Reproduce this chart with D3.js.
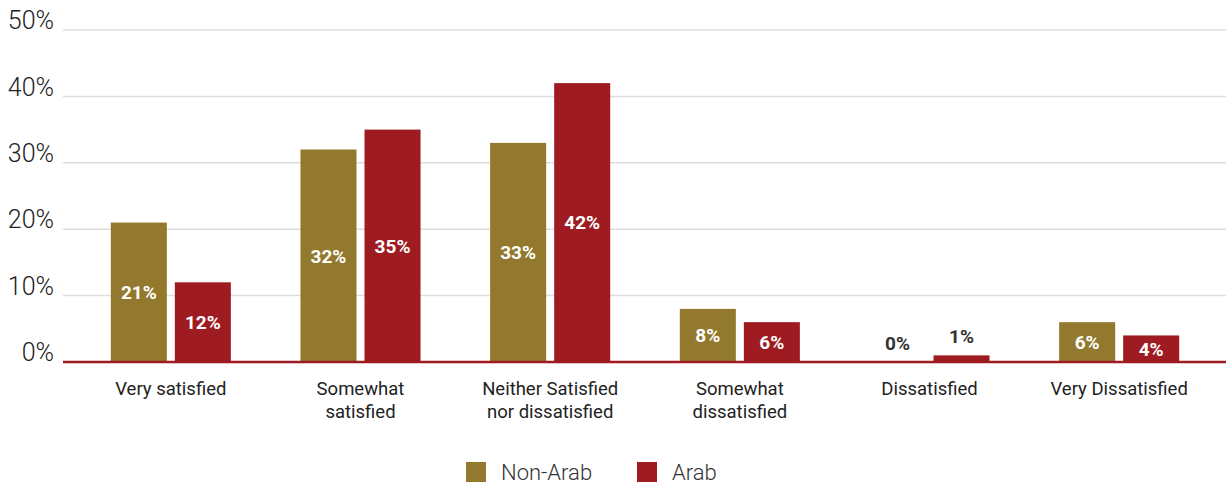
<!doctype html>
<html lang="en">
<head>
<meta charset="utf-8">
<title>Satisfaction: Non-Arab vs Arab</title>
<script src="https://cdn.jsdelivr.net/npm/d3@7"></script>
<style>
body { margin: 0; background: #fff; }
text { font-family: Roboto, "DejaVu Sans", sans-serif; }
</style>
</head>
<body>
<div id="chart"></div>
<script>

var width = 1226;
var height = 486;

// data
var categories = [
	["Very satisfied"],
	["Somewhat", "satisfied"],
	["Neither Satisfied", "nor dissatisfied"],
	["Somewhat", "dissatisfied"],
	["Dissatisfied"],
	["Very Dissatisfied"]
];
var seriesNames = ["Non-Arab", "Arab"];
var nonArab = [21, 32, 33, 8, 0, 6];
var arab = [12, 35, 42, 6, 1, 4];
var yTicks = [0, 10, 20, 30, 40, 50];

var colors = ["#92792e", "#9e1b22"];

var svg = d3.select("#chart").append("svg")
	.attr("width", width)
	.attr("height", height);

var x0 = d3.scaleBand()
	.domain(d3.range(categories.length))
	.range([76, 1214])
	.paddingInner(0.367)
	.paddingOuter(0.1835);

var x1 = d3.scaleBand()
	.domain(d3.range(seriesNames.length))
	.range([0, x0.bandwidth()])
	.paddingInner(0.125);

var y = d3.scaleLinear()
	.domain([0, 50])
	.range([362, 30]);

// gridlines
svg.append("g").selectAll("line")
	.data(yTicks.slice(1))
	.enter().append("line")
	.attr("x1", 63).attr("x2", width)
	.attr("y1", function(d) { return y(d); })
	.attr("y2", function(d) { return y(d); })
	.attr("stroke", "#dedede")
	.attr("stroke-width", 1.5);

// y axis labels
var yAxis = svg.append("g")
	.attr("transform", "translate(54,0)")
	.call(d3.axisLeft(y).tickValues(yTicks).tickSize(0).tickPadding(0)
		.tickFormat(function(d) { return d + "%"; }));
yAxis.select(".domain").remove();
yAxis.selectAll("text")
	.attr("dy", "-0.05em")
	.attr("font-size", 25)
	.attr("font-weight", 300)
	.attr("fill", "#222")
	.style("font-family", "Roboto, sans-serif");

// bars
var rows = categories.map(function(c, i) { return [nonArab[i], arab[i]]; });

var groups = svg.append("g").selectAll("g")
	.data(rows)
	.enter().append("g")
	.attr("transform", function(d, i) { return "translate(" + x0(i) + ",0)"; });

groups.selectAll("rect")
	.data(function(d) { return d; })
	.enter().append("rect")
	.attr("x", function(d, j) { return x1(j); })
	.attr("y", function(d) { return y(d); })
	.attr("width", x1.bandwidth())
	.attr("height", function(d) { return y(0) - y(d); })
	.attr("fill", function(d, j) { return colors[j]; });

// value labels: inside when bar is tall enough, otherwise above in grey
groups.selectAll("text")
	.data(function(d) { return d; })
	.enter().append("text")
	.attr("x", function(d, j) { return x1(j) + x1.bandwidth() / 2; })
	.attr("y", function(d) {
		var h = y(0) - y(d);
		return h > 20 ? y(d) + h / 2 : y(d) - 12;
	})
	.attr("dy", function(d) { return (y(0) - y(d)) > 20 ? "0.36em" : "0"; })
	.attr("text-anchor", "middle")
	.attr("font-size", 19)
	.attr("font-weight", 700)
	.attr("fill", function(d) { return (y(0) - y(d)) > 20 ? "#fff" : "#333"; })
	.text(function(d) { return d + "%"; });

// baseline
svg.append("line")
	.attr("x1", 63).attr("x2", width)
	.attr("y1", y(0)).attr("y2", y(0))
	.attr("stroke", "#9e1b22")
	.attr("stroke-width", 2.5);

// category labels
var catText = svg.append("g").selectAll("text")
	.data(categories)
	.enter().append("text")
	.attr("x", function(d, i) { return x0(i) + x0.bandwidth() / 2; })
	.attr("y", 395)
	.attr("text-anchor", "middle")
	.attr("font-size", 18.5)
	.attr("fill", "#222");

catText.selectAll("tspan")
	.data(function(d) { return d; })
	.enter().append("tspan")
	.attr("x", function() { return d3.select(this.parentNode).attr("x"); })
	.attr("dy", function(d, k) { return k === 0 ? 0 : 23; })
	.text(function(d) { return d; });

// legend
var legendX = [466, 637];
var legend = svg.append("g").selectAll("g")
	.data(seriesNames)
	.enter().append("g")
	.attr("transform", function(d, i) { return "translate(" + legendX[i] + ",462)"; });

legend.append("rect")
	.attr("width", 20).attr("height", 20)
	.attr("fill", function(d, i) { return colors[i]; });

legend.append("text")
	.attr("x", 35).attr("y", 18)
	.attr("font-size", 22)
	.attr("font-weight", 300)
	.attr("fill", "#333")
	.text(function(d) { return d; });

</script>
</body>
</html>
